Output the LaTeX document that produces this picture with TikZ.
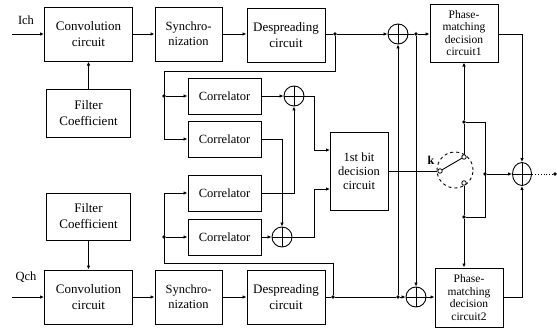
\documentclass[tikz,border=0pt]{standalone}
\usepackage{fontspec}
\setmainfont{Liberation Serif}
\usetikzlibrary{arrows.meta,shapes.geometric}
\begin{document}
\begin{tikzpicture}[x=1pt,y=-1pt,
 box/.style={draw,line width=1pt,align=center,inner sep=0pt,font=\fontsize{13}{16}\selectfont},
 syncbox/.style={box,minimum width=67pt,minimum height=54pt,font=\fontsize{12.5}{15}\selectfont},
 corr/.style={box,minimum width=73pt,minimum height=36pt,font=\fontsize{12.5}{15}\selectfont},
 phbox/.style={box,minimum width=68pt,minimum height=58pt,font=\fontsize{11.5}{12.5}\selectfont},
 adder/.style={draw,circle,minimum size=20pt,inner sep=0pt,line width=0.9pt,
   path picture={\draw[line width=0.4pt] (path picture bounding box.north) -- (path picture bounding box.south)
     (path picture bounding box.west) -- (path picture bounding box.east);}},
 ln/.style={line width=0.9pt},
 arr/.style={ln,-{Latex[length=4pt,width=3.5pt]}},
 jdot/.style={circle,fill,inner sep=0pt,minimum size=3.6pt},
 swpin/.style={circle,draw,fill=white,inner sep=0pt,minimum size=4.5pt,line width=0.8pt},
 lab/.style={font=\fontsize{12.5}{15}\selectfont,inner sep=0pt}
]
\useasboundingbox (0,0) rectangle (557,335);

% ---- I channel row
\node[lab] (ich) at (26,20) {Ich};
\coordinate (ichin) at (12,34);
\node[box,minimum width=88pt,minimum height=54pt] (conv1) at (88.5,34) {Convolution\\circuit};
\node[syncbox] (syn1) at (188.5,34) {Synchro-\\ nization};
\node[box,minimum width=78pt,minimum height=54pt] (desp1) at (286,35) {Despreading\\circuit};
\node[box,minimum width=84pt,minimum height=48pt] (f1) at (88.5,113) {Filter\\Coefficient};

% ---- Q channel row
\node[lab] (qch) at (26,277) {Qch};
\coordinate (qchin) at (12,297);
\node[box,minimum width=88pt,minimum height=54pt] (conv2) at (88.5,297) {Convolution\\circuit};
\node[syncbox] (syn2) at (188.5,297) {Synchro-\\ nization};
\node[box,minimum width=78pt,minimum height=54pt] (desp2) at (286,297) {Despreading\\circuit};
\node[box,minimum width=84pt,minimum height=47pt] (f2) at (88.5,216.5) {Filter\\Coefficient};

% ---- correlators
\node[corr] (c1) at (224.5,96) {Correlator};
\node[corr] (c2) at (224.5,139) {Correlator};
\node[corr] (c3) at (224.5,193) {Correlator};
\node[corr] (c4) at (224.5,237) {Correlator};
\node[adder] (s1) at (294,96) {};
\node[adder] (s2) at (282,237) {};
\node[box,minimum width=58pt,minimum height=78pt,font=\fontsize{12.5}{14}\selectfont] (bit) at (359,171) {1st bit\\decision\\circuit};
\coordinate (bitin1) at (330,150);
\coordinate (bitin2) at (330,189);

% ---- adders and phase-matching
\node[adder] (a1) at (398,34) {};
\node[adder] (a2) at (416,297) {};
\node[phbox] (ph1) at (464,33) {Phase-\\matching\\decision\\circuit1};
\node[phbox,minimum height=59pt] (ph2) at (469,297.5) {Phase-\\matching\\decision\\circuit2};
\node[draw,ellipse,minimum width=19pt,minimum height=23pt,inner sep=0pt,line width=0.9pt,
   path picture={\draw[line width=0.4pt] (path picture bounding box.north) -- (path picture bounding box.south)
     (path picture bounding box.west) -- (path picture bounding box.east);}] (a3) at (522,174) {};

% ---- switch
\node[draw,dashed,circle,minimum size=36pt,line width=0.9pt] (sw) at (455,170) {};
\node[swpin] (kp) at (440,171) {};
\node[swpin] (up) at (464,157) {};
\node[swpin] (lo) at (464,183) {};
\node[font=\fontsize{12}{14}\selectfont\bfseries,inner sep=0pt] (klab) at (431,160) {k};

% ---- junction dots
\node[jdot] (d1) at (335,34) {};
\node[jdot] (d2) at (416,34) {};
\node[jdot] (d3) at (333,297) {};
\node[jdot] (d4) at (398,297) {};
\node[jdot] (ld1) at (164,96) {};
\node[jdot] (ld2) at (164,237) {};
\node[jdot] (d5) at (464,122) {};
\node[jdot] (d6) at (485,174) {};
\node[jdot] (d7) at (464,217) {};
\node[jdot] (out) at (555,174) {};
\coordinate (lt1) at (335,71);
\coordinate (lt2) at (164,71);
\coordinate (lt3) at (164,139);
\coordinate (lb1) at (333,263);
\coordinate (lb2) at (164,263);
\coordinate (lb3) at (164,193);
\coordinate (r1) at (485,122);
\coordinate (r2) at (485,217);

% ---- I row connectors
\draw[arr] (ichin) -- (conv1.west);
\draw[arr] (conv1.east) -- (syn1.west);
\draw[arr] (syn1.east) -- (syn1.east -| desp1.west);
\draw[ln] (desp1.east |- d1) -- (d1);
\draw[arr] (d1) -- (a1.west);
\draw[ln] (a1.east) -- (d2);
\draw[arr] (d2) -- (d2 -| ph1.west);
\draw[arr] (f1.north) -- (conv1.south);

% ---- Q row connectors
\draw[arr] (qchin) -- (conv2.west);
\draw[arr] (conv2.east) -- (syn2.west);
\draw[arr] (syn2.east) -- (desp2.west);
\draw[ln] (desp2.east) -- (d3);
\draw[ln] (d3) -- (d4);
\draw[arr] (d4) -- (a2.west);
\draw[arr] (a2.east) -- (a2.east -| ph2.west);
\draw[arr] (f2.south) -- (conv2.north);

% ---- loops to correlators
\draw[ln] (d1) -- (lt1) -- (lt2) -- (lt3);
\draw[arr] (lt3) -- (c2.west);
\draw[arr] (ld1) -- (c1.west);
\draw[ln] (d3) -- (lb1) -- (lb2) -- (lb3);
\draw[arr] (lb3) -- (c3.west);
\draw[arr] (ld2) -- (c4.west);

% ---- correlator sums
\draw[arr] (c1.east) -- (s1.west);
\draw[arr] (c3.east) -| (s1.south);
\draw[arr] (c2.east) -| (s2.north);
\draw[arr] (c4.east) -- (s2.west);
\draw[arr] (s1.east) -- ++(10,0) |- (bitin1);
\draw[arr] (s2.east) -- ++(22,0) |- (bitin2);
\draw[ln] (bit.east) -- (kp.west);

% ---- cross coupling
\draw[arr] (d4) -- (a1.south);
\draw[arr] (d2) -- (a2.north);

% ---- switch and output
\draw[ln] (kp) -- (up);
\draw[arr] (d5) -- (d5 |- ph1.south);
\draw[ln] (up.north) -- (d5);
\draw[ln] (d5) -- (r1) -- (r2) -- (d7);
\draw[ln] (lo.south) -- (d7);
\draw[arr] (d7) -- (d7 |- ph2.north);
\draw[arr] (d6) -- (a3.west);
\draw[arr] (ph1.east |- d2) -| (a3.north);
\draw[arr] (ph2.east |- d4) -| (a3.south);
\draw[ln,dotted] (a3.east) -- (out);
\end{tikzpicture}
\end{document}
